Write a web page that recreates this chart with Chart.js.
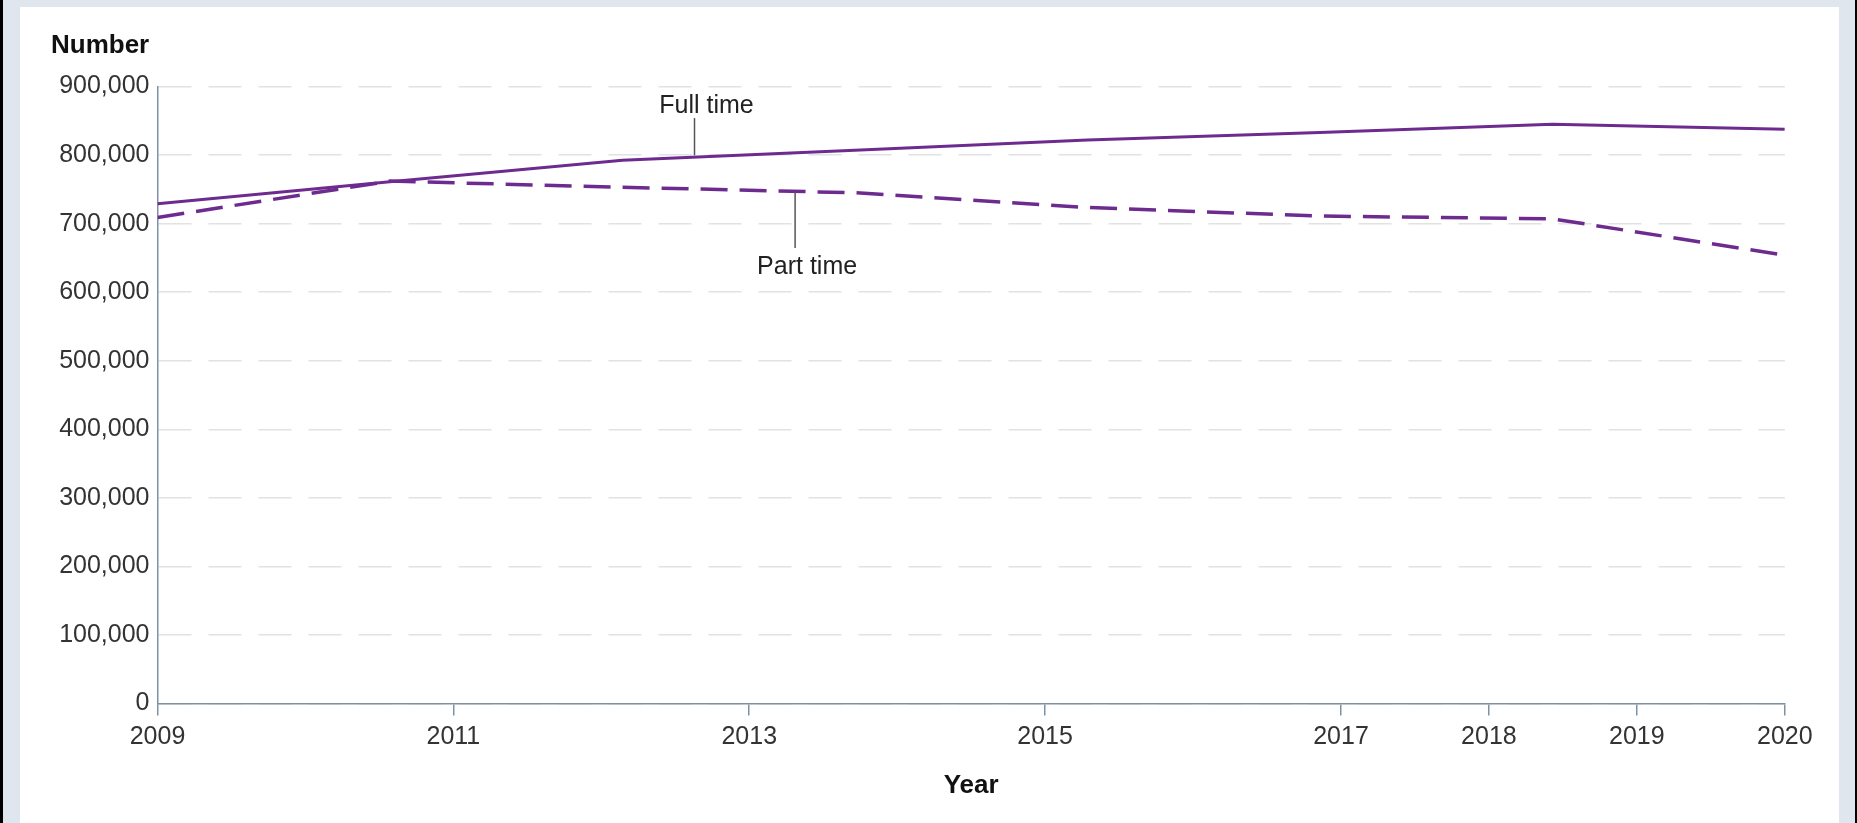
<!DOCTYPE html>
<html>
<head>
<meta charset="utf-8">
<script src="https://cdn.jsdelivr.net/npm/chart.js@4/dist/chart.umd.min.js"></script>
<style>
  html, body { margin: 0; padding: 0; }
  body { width: 1857px; height: 823px; background: #dfe6ed; position: relative; overflow: hidden; }
  #lb { position: absolute; left: 0; top: 0; width: 3px; height: 823px; background: #000; }
  #rb { position: absolute; left: 1855px; top: 0; width: 2px; height: 823px; background: #000; }
  #panel { position: absolute; left: 20px; top: 7px; width: 1819px; height: 816px; background: #fff; }
  #c { position: absolute; left: 0; top: 0; }
</style>
</head>
<body>
<div id="lb"></div><div id="rb"></div><div id="panel"></div>
<canvas id="c" width="1857" height="823"></canvas>
<script>
// ---- data ----
const xYears = [2009, 2010.571, 2012.143, 2013.714, 2015.286, 2016.857, 2018.429, 2020];
const fullTime = [729000, 761000, 792500, 807000, 822000, 833000, 845000, 837500];
const partTime = [709000, 762000, 753000, 745000, 723500, 711000, 707000, 654000];
const tickYears = [2009, 2011, 2013, 2015, 2017, 2018, 2019, 2020];
const seriesNames = ['Full time', 'Part time'];
// annotation labels (data coordinates)
const annX = [2012.63, 2013.31];
const annTextVal = [871500, 636500];
const annLineFrom = [854000, 746600];
const annLineTo = [799500, 664500];

const FONT = "'Liberation Sans', Arial, sans-serif";
const PURPLE = '#6e2b8f';
const AXIS = '#7d92a3';

const toPts = (ys) => xYears.map((x, i) => ({ x: x, y: ys[i] }));

const annotPlugin = {
  id: 'annot',
  afterDatasetsDraw(chart) {
    const ctx = chart.ctx, xs = chart.scales.x, ys = chart.scales.y;
    ctx.save();
    // y-axis title "Number"
    ctx.font = "bold 26px " + FONT;
    ctx.fillStyle = '#111';
    ctx.textAlign = 'left';
    ctx.textBaseline = 'middle';
    ctx.fillText('Number', ys.left, chart.chartArea.top - 41);
    // series labels with leader lines
    for (let i = 0; i < seriesNames.length; i++) {
      const px = xs.getPixelForValue(annX[i]);
      ctx.strokeStyle = '#555';
      ctx.lineWidth = 1.5;
      ctx.beginPath();
      ctx.moveTo(px, ys.getPixelForValue(annLineFrom[i]));
      ctx.lineTo(px, ys.getPixelForValue(annLineTo[i]));
      ctx.stroke();
      ctx.font = "25px " + FONT;
      ctx.fillStyle = '#222';
      ctx.textAlign = 'center';
      ctx.textBaseline = 'middle';
      ctx.fillText(seriesNames[i], px + 12, ys.getPixelForValue(annTextVal[i]));
    }
    ctx.restore();
  }
};

new Chart(document.getElementById('c'), {
  type: 'line',
  data: {
    datasets: [
      { label: seriesNames[0], data: toPts(fullTime), borderColor: PURPLE, borderWidth: 3, pointRadius: 0, fill: false, tension: 0 },
      { label: seriesNames[1], data: toPts(partTime), borderColor: PURPLE, borderWidth: 3.5, borderDash: [27, 12], pointRadius: 0, fill: false, tension: 0 }
    ]
  },
  options: {
    responsive: false,
    animation: false,
    devicePixelRatio: 1,
    layout: { padding: { left: 51, top: 86.5, right: 72.2, bottom: 0 } },
    plugins: { legend: { display: false }, tooltip: { enabled: false }, title: { display: false } },
    scales: {
      x: {
        type: 'linear',
        min: 2009, max: 2020,
        afterBuildTicks: (s) => { s.ticks = tickYears.map(v => ({ value: v })); },
        afterFit: (s) => { s.height = 823 - 703.5; },
        ticks: {
          callback: (v) => String(v),
          font: { family: FONT, size: 25 },
          color: '#333',
          padding: 7,
          maxRotation: 0,
          autoSkip: false
        },
        grid: { drawOnChartArea: false, drawTicks: true, tickLength: 12, color: AXIS, lineWidth: 1.5 },
        border: { display: true, color: AXIS, width: 1.5 },
        title: { display: true, text: 'Year', font: { family: FONT, size: 26, weight: 'bold' }, color: '#111', padding: { top: 0, bottom: 22 } }
      },
      y: {
        min: 0, max: 900000,
        afterFit: (s) => { s.width = 106.5; },
        ticks: {
          stepSize: 100000,
          callback: (v) => Number(v).toLocaleString('en-GB'),
          font: { family: FONT, size: 25 },
          color: '#333',
          padding: 8
        },
        grid: { drawTicks: false, color: '#e2e2e2', lineWidth: 1.5 },
        border: { display: true, color: AXIS, width: 1.5, dash: [33, 17] }
      }
    }
  },
  plugins: [annotPlugin]
});
</script>
</body>
</html>
